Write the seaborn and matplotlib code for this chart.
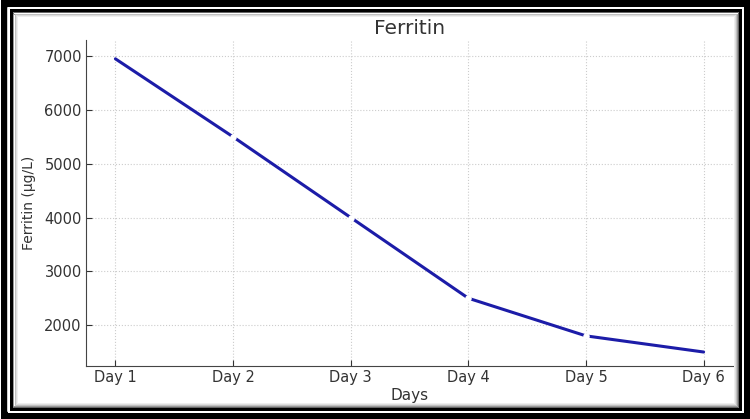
import numpy as np
import pandas as pd
import seaborn as sns
import matplotlib.pyplot as plt
from matplotlib.patches import Rectangle

days = ["Day 1", "Day 2", "Day 3", "Day 4", "Day 5", "Day 6"]
ferritin = [6950, 5500, 4000, 2500, 1800, 1500]

df = pd.DataFrame({"Days": days, "Ferritin": ferritin})

sns.set_style("ticks")
plt.rcParams["font.family"] = ["DejaVu Sans"]

W, H = 750, 419
fig = plt.figure(figsize=(W / 100, H / 100), dpi=100)
ax = fig.add_axes([86 / W, 53 / H, 647 / W, 326 / H])

sns.lineplot(data=df, x="Days", y="Ferritin", ax=ax, color="#1c1ca8", linewidth=2.2, sort=False)
# small white breaks in the line at the middle points, as in the picture
sns.scatterplot(data=df.iloc[1:5], x="Days", y="Ferritin", ax=ax, color="white",
                s=22, linewidth=0, zorder=5, legend=False)

ax.set_ylim(1240, 7300)
ax.set_title("Ferritin", fontsize=14.5, color="#333333", pad=4)
ax.set_xlabel("Days", fontsize=11, color="#333333", labelpad=2)
ax.set_ylabel("Ferritin (\u03bcg/L)", fontsize=10, color="#333333", labelpad=6)
ax.tick_params(labelsize=10.5, colors="#333333", direction="in", length=4, pad=3)
ax.grid(True, linestyle=":", color="#cccccc", linewidth=0.8)
ax.set_yticks([2000, 3000, 4000, 5000, 6000, 7000])
for s in ["top", "right"]:
    ax.spines[s].set_visible(False)
for s in ["left", "bottom"]:
    ax.spines[s].set_color("#444444")


def frame(inset, width_px, color):
    # rectangle outline inset from the figure edge, sizes in pixels
    fig.patches.append(Rectangle((inset / W, inset / H), 1 - 2 * inset / W, 1 - 2 * inset / H,
                                 transform=fig.transFigure, fill=False, edgecolor=color,
                                 linewidth=width_px * 0.72, zorder=10))


frame(3.5, 7, "black")
frame(7.75, 1.6, "white")
frame(10.5, 3, "black")
for i, c in enumerate(["#666666", "#999999", "#c0c0c0", "#dddddd", "#eeeeee"]):
    frame(12.5 + i, 1, c)

fig.savefig("out.png", dpi=100)
